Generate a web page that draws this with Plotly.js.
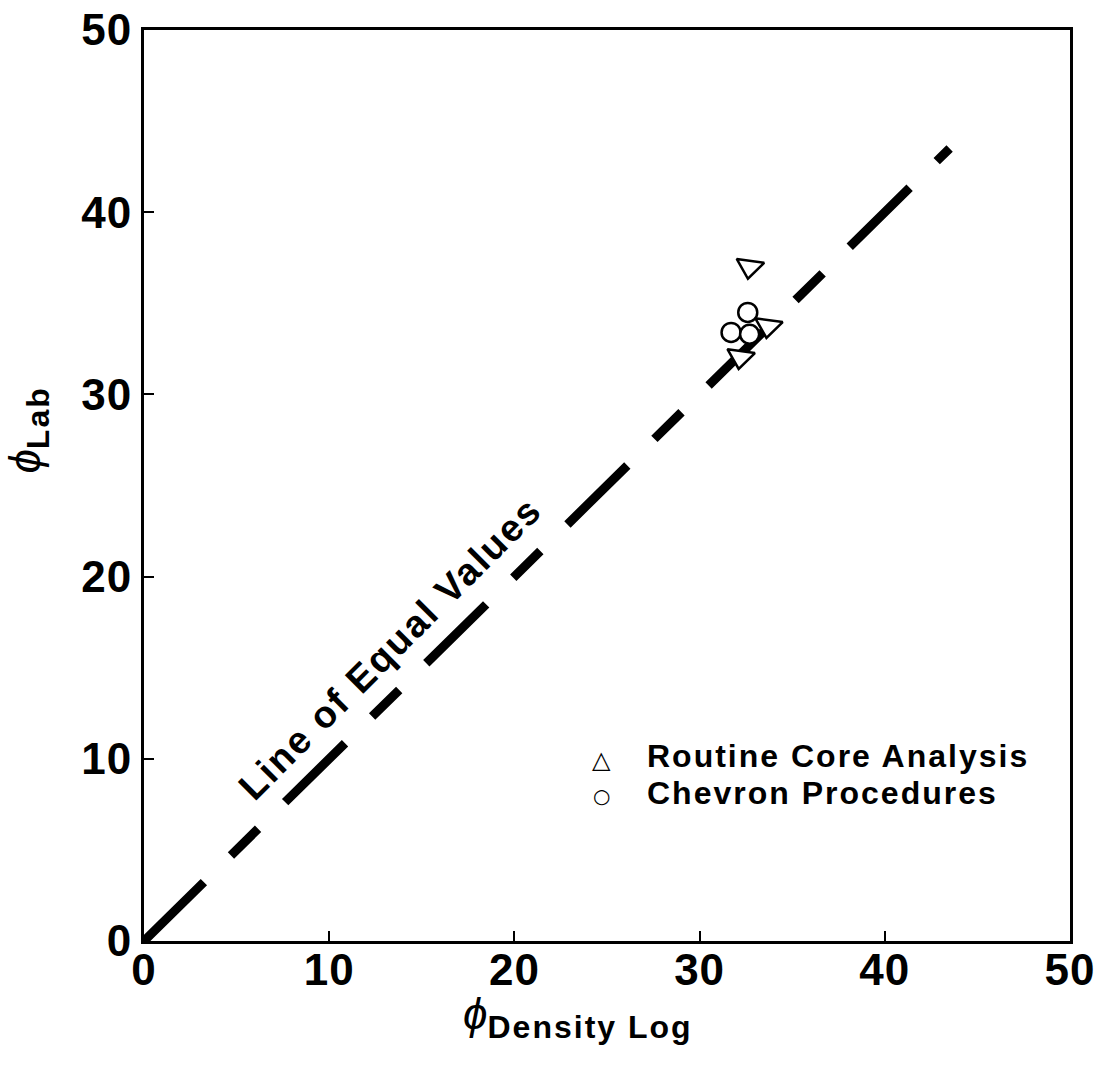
<!DOCTYPE html>
<html>
<head>
<meta charset="utf-8">
<script src="https://cdn.plot.ly/plotly-3.0.1.min.js"></script>
<style>
  html, body { margin: 0; padding: 0; background: #ffffff; }
  #chart { width: 1105px; height: 1067px; }
  .xtick text, .ytick text { letter-spacing: 1px; }
</style>
</head>
<body>
<div id="chart"></div>
<script>
// Line of equal values (y = x)
const equalX = [0, 43.5];
const equalY = [0, 43.5];

// Routine Core Analysis (triangles)
const routineX = [32.7, 33.7, 32.2];
const routineY = [37.0, 33.75, 32.05];

// Chevron Procedures (circles)
const chevronX = [32.6, 31.7, 32.7];
const chevronY = [34.5, 33.4, 33.3];

const tickVals = [0, 10, 20, 30, 40, 50];
const tickText = ['0', '10', '20', '30', '40', '50'];

const seriesNames = ['Routine Core Analysis', 'Chevron Procedures'];
const seriesGlyphs = ['△', '○'];

const FONT = 'Liberation Sans, Arial, Helvetica, sans-serif';

const traces = [
  {
    x: equalX, y: equalY, mode: 'lines', showlegend: false, hoverinfo: 'skip',
    line: { color: '#000000', width: 9, dash: '84px,38px,38px,38px' }
  },
  {
    x: chevronX, y: chevronY, mode: 'markers', name: seriesNames[1], showlegend: false,
    marker: { symbol: 'circle', size: 19, color: '#ffffff', line: { color: '#000000', width: 2.5 } }
  },
  {
    x: routineX, y: routineY, mode: 'markers', name: seriesNames[0], showlegend: false,
    marker: { symbol: 'triangle-down', angle: 8, size: 24, color: '#ffffff', line: { color: '#000000', width: 2.5 } }
  }
];

const axisCommon = {
  range: [0, 50],
  tickvals: tickVals,
  ticktext: tickText,
  ticks: 'inside',
  ticklen: 10,
  tickwidth: 2,
  tickcolor: '#000000',
  showline: true,
  linewidth: 3,
  linecolor: '#000000',
  mirror: true,
  showgrid: false,
  zeroline: false,
  fixedrange: true,
  tickfont: { family: FONT, size: 44, color: '#000000', weight: 700 }
};

const legendAnn = [];
const legendRowsY = [0.203, 0.163];
seriesNames.forEach((name, i) => {
  legendAnn.push({
    x: 0.4946, y: legendRowsY[i] - 0.004, xref: 'paper', yref: 'paper', showarrow: false,
    xanchor: 'center', yanchor: 'middle',
    text: seriesGlyphs[i],
    font: { family: 'DejaVu Sans, sans-serif', size: i === 0 ? 24 : 20, color: '#000000' }
  });
  legendAnn.push({
    x: 0.541, y: legendRowsY[i], xref: 'paper', yref: 'paper', showarrow: false,
    xanchor: 'left', yanchor: 'middle',
    text: '<span style="letter-spacing:2px">' + name + '</span>',
    font: { family: FONT, size: 32, color: '#000000', weight: 700 }
  });
});

const layout = {
  width: 1105,
  height: 1067,
  paper_bgcolor: '#ffffff',
  plot_bgcolor: '#ffffff',
  margin: { l: 144, r: 35, t: 30, b: 126 },
  font: { family: FONT, color: '#000000' },
  xaxis: Object.assign({}, axisCommon, { ticklabelstandoff: -12 }),
  yaxis: Object.assign({}, axisCommon),
  showlegend: false,
  annotations: [
    {
      x: 13.3, y: 16.1, xref: 'x', yref: 'y', showarrow: false, textangle: -45,
      text: '<span style="letter-spacing:2px">Line of Equal Values</span>',
      font: { family: FONT, size: 38, color: '#000000', weight: 700 }
    },
    {
      x: 0.469, y: -0.116, xref: 'paper', yref: 'paper', showarrow: false,
      text: '<i>ϕ</i><sub><span style="font-size:32px;font-weight:bold;letter-spacing:2px">Density Log</span></sub>',
      font: { family: FONT, size: 44, color: '#000000' }
    },
    {
      x: -0.158, y: 0.561, xref: 'paper', yref: 'paper', showarrow: false, textangle: -90,
      text: '<i>ϕ</i><sub><span style="font-size:32px;font-weight:bold;letter-spacing:2px">Lab</span></sub>',
      font: { family: FONT, size: 44, color: '#000000' }
    }
  ].concat(legendAnn)
};

Plotly.newPlot('chart', traces, layout, { displayModeBar: false, staticPlot: true });
</script>
</body>
</html>
